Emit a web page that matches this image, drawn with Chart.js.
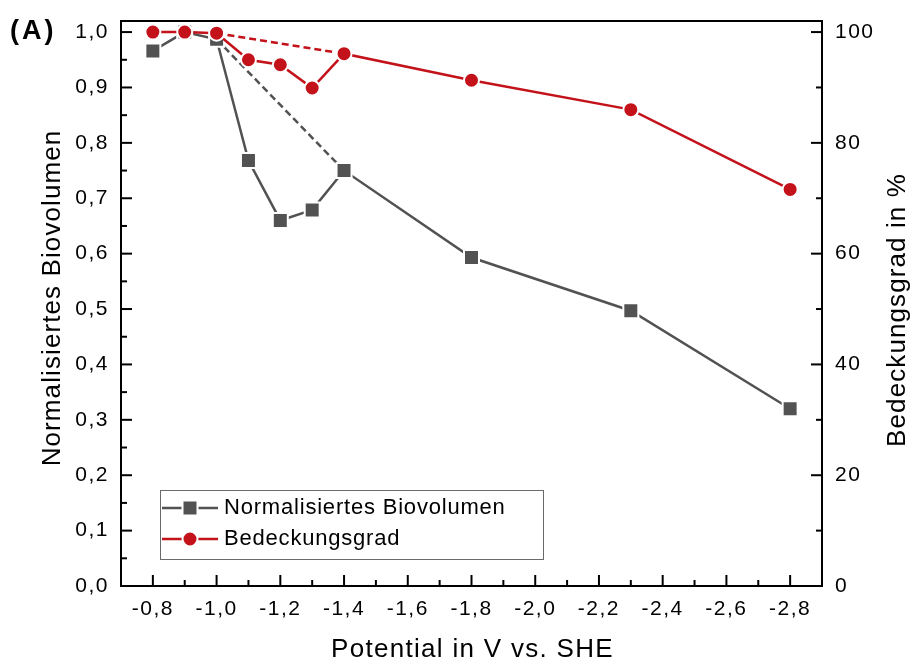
<!DOCTYPE html>
<html>
<head>
<meta charset="utf-8">
<script src="https://cdn.jsdelivr.net/npm/chart.js@4.4.0/dist/chart.umd.min.js"></script>
<style>
  html, body { margin: 0; padding: 0; background: #fff; }
  #wrap { width: 912px; height: 664px; }
</style>
</head>
<body>
<div id="wrap"><canvas id="potentialChart" width="912" height="664"></canvas></div>
<script>
// values
const potentials = [-0.8, -0.9, -1.0, -1.1, -1.2, -1.3, -1.4, -1.8, -2.3, -2.8];
const biovolumen = [0.966, 1.0, 0.987, 0.768, 0.660, 0.679, 0.750, 0.593, 0.497, 0.320];
const bedeckung  = [100, 100, 99.8, 95.0, 94.1, 89.9, 96.1, 91.3, 86.0, 71.6];
// dashed shortcut drawn straight from -1,0 to -1,4
const shortcut = [-1.0, -1.4];

const xTicks = [-0.8, -1.0, -1.2, -1.4, -1.6, -1.8, -2.0, -2.2, -2.4, -2.6, -2.8];
const leftTicks = [0, 0.1, 0.2, 0.3, 0.4, 0.5, 0.6, 0.7, 0.8, 0.9, 1.0];
const rightTicks = [0, 20, 40, 60, 80, 100];

const seriesNames = ['Normalisiertes Biovolumen', 'Bedeckungsgrad'];
const xTitle = 'Potential in V vs. SHE';
const leftTitle = 'Normalisiertes Biovolumen';
const rightTitle = 'Bedeckungsgrad in %';
const panelLabel = '(A)';

const GRAY = '#525252';
const RED = '#c3121a';
const FONT = '"Liberation Sans", Arial, sans-serif';

const comma = v => v.toFixed(1).replace('.', ',');
const pts = (xs, ys) => xs.map((p, i) => ({ x: p, y: ys[i] }));
const pick = (arr) => shortcut.map(p => ({ x: p, y: arr[potentials.indexOf(p)] }));

// midpoints between major ticks -> minor ticks
const minors = arr => arr.slice(1).map((v, i) => (v + arr[i]) / 2);

const originPlugin = {
  id: 'origin',
  beforeDraw(chart) {
    chart.ctx.letterSpacing = '1.5px';
  },
  afterDraw(chart) {
    const { ctx, chartArea: a, scales: { x, y, y1 } } = chart;
    ctx.save();
    ctx.letterSpacing = '0px';
    ctx.strokeStyle = '#000';
    ctx.lineWidth = 2;
    ctx.strokeRect(a.left, a.top, a.right - a.left, a.bottom - a.top);

    const line = (x0, y0, x1, y1_) => {
      ctx.beginPath(); ctx.moveTo(x0, y0); ctx.lineTo(x1, y1_); ctx.stroke();
    };
    xTicks.forEach(v => { const px = x.getPixelForValue(v); line(px, a.bottom, px, a.bottom - 11); });
    minors(xTicks).forEach(v => { const px = x.getPixelForValue(v); line(px, a.bottom, px, a.bottom - 6); });
    leftTicks.forEach(v => { const py = y.getPixelForValue(v); line(a.left, py, a.left + 11, py); });
    minors(leftTicks).forEach(v => { const py = y.getPixelForValue(v); line(a.left, py, a.left + 6, py); });
    rightTicks.forEach(v => { const py = y1.getPixelForValue(v); line(a.right, py, a.right - 11, py); });
    minors(rightTicks).forEach(v => { const py = y1.getPixelForValue(v); line(a.right, py, a.right - 6, py); });

    // axis titles
    ctx.fillStyle = '#000';
    ctx.textAlign = 'center';
    ctx.textBaseline = 'middle';
    ctx.font = '26px ' + FONT;
    ctx.letterSpacing = '1.3px';
    ctx.fillText(xTitle, (a.left + a.right) / 2 + 1, 650);

    ctx.letterSpacing = '1.1px';
    ctx.save();
    ctx.translate(53, 298);
    ctx.rotate(-Math.PI / 2);
    ctx.fillText(leftTitle, 0, 0);
    ctx.restore();

    ctx.save();
    ctx.translate(898, 310);
    ctx.rotate(-Math.PI / 2);
    ctx.fillText(rightTitle, 0, 0);
    ctx.restore();

    ctx.font = 'bold 27px ' + FONT;
    ctx.letterSpacing = '3px';
    ctx.textAlign = 'left';
    ctx.fillText(panelLabel, 10, 32);

    // legend box
    const bx = 160, by = 490, bw = 383, bh = 69;
    ctx.letterSpacing = '0.8px';
    ctx.strokeStyle = '#6a6a6a';
    ctx.lineWidth = 1;
    ctx.strokeRect(bx + 0.5, by + 0.5, bw, bh);
    const rows = [
      { name: seriesNames[0], color: GRAY, square: true, yy: 508 },
      { name: seriesNames[1], color: RED, square: false, yy: 539 }
    ];
    ctx.font = '22px ' + FONT;
    rows.forEach(r => {
      ctx.strokeStyle = r.color;
      ctx.lineWidth = 2.5;
      line(bx + 2, r.yy, bx + 58, r.yy);
      ctx.fillStyle = r.color;
      ctx.strokeStyle = '#fff';
      ctx.lineWidth = 2;
      ctx.beginPath();
      if (r.square) ctx.rect(bx + 30 - 7.5, r.yy - 7.5, 15, 15);
      else ctx.arc(bx + 30, r.yy, 7.5, 0, Math.PI * 2);
      ctx.fill(); ctx.stroke();
      ctx.fillStyle = '#000';
      ctx.textBaseline = 'middle';
      ctx.fillText(r.name, bx + 64, r.yy);
    });
    ctx.restore();
  }
};

const tickFont = { family: FONT, size: 21 };
const noEdgePad = s => { s.paddingTop = 0; s.paddingBottom = 0; s.paddingLeft = 0; s.paddingRight = 0; };

new Chart(document.getElementById('potentialChart').getContext('2d'), {
  type: 'line',
  data: {
    datasets: [
      {
        label: seriesNames[1],
        data: pts(potentials, bedeckung),
        yAxisID: 'y1',
        borderColor: RED,
        backgroundColor: RED,
        borderWidth: 2.5,
        pointStyle: 'circle',
        pointRadius: 7.5,
        pointBorderColor: '#fff',
        pointBorderWidth: 2,
        order: 0
      },
      {
        label: seriesNames[0],
        data: pts(potentials, biovolumen),
        yAxisID: 'y',
        borderColor: GRAY,
        backgroundColor: GRAY,
        borderWidth: 2.5,
        pointStyle: 'rect',
        pointRadius: 10.6,
        pointBorderColor: '#fff',
        pointBorderWidth: 2,
        order: 1
      },
      {
        label: 'shortcut-red',
        data: pick(bedeckung),
        yAxisID: 'y1',
        borderColor: RED,
        borderWidth: 2.5,
        borderDash: [7, 4],
        pointRadius: 0,
        order: 2
      },
      {
        label: 'shortcut-gray',
        data: pick(biovolumen),
        yAxisID: 'y',
        borderColor: GRAY,
        borderWidth: 2.5,
        borderDash: [7, 4],
        pointRadius: 0,
        order: 3
      }
    ]
  },
  options: {
    responsive: false,
    animation: false,
    devicePixelRatio: 1,
    layout: { padding: { top: 21, left: 0, right: 0, bottom: 0 } },
    plugins: { legend: { display: false }, tooltip: { enabled: false } },
    scales: {
      x: {
        type: 'linear',
        position: 'bottom',
        min: -2.9,
        max: -0.7,
        reverse: true,
        grid: { display: false, drawTicks: false, tickLength: 0 },
        border: { display: false },
        ticks: { font: tickFont, color: '#000', padding: 11, maxRotation: 0, callback: v => comma(v) },
        afterBuildTicks: s => { s.ticks = xTicks.map(v => ({ value: v })); },
        afterFit: s => { s.height = 78; noEdgePad(s); }
      },
      y: {
        position: 'left',
        min: 0,
        max: 1.02,
        grid: { display: false, drawTicks: false, tickLength: 0 },
        border: { display: false },
        ticks: { font: tickFont, color: '#000', padding: 12, callback: v => comma(v) },
        afterBuildTicks: s => { s.ticks = leftTicks.map(v => ({ value: v })); },
        afterFit: s => { s.width = 121; noEdgePad(s); }
      },
      y1: {
        position: 'right',
        min: 0,
        max: 102,
        grid: { display: false, drawTicks: false, tickLength: 0 },
        border: { display: false },
        ticks: { font: tickFont, color: '#000', padding: 13, callback: v => String(v) },
        afterBuildTicks: s => { s.ticks = rightTicks.map(v => ({ value: v })); },
        afterFit: s => { s.width = 90; noEdgePad(s); }
      }
    }
  },
  plugins: [originPlugin]
});
</script>
</body>
</html>
